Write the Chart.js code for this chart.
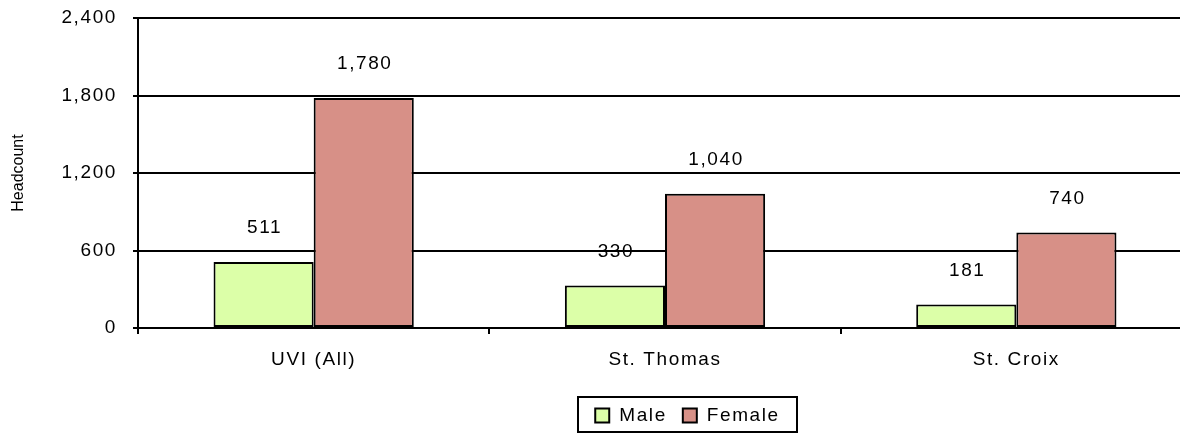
<!DOCTYPE html>
<html>
<head>
<meta charset="utf-8">
<script src="https://cdn.jsdelivr.net/npm/chart.js@4.4.1/dist/chart.umd.min.js"></script>
<style>
  html, body { margin: 0; padding: 0; background: #fff; overflow: hidden; }
  #wrap { position: relative; width: 1192px; height: 438px; }
</style>
</head>
<body>
<div id="wrap"><canvas id="chart"></canvas></div>
<script>
// data
const campuses = ['UVI (All)', 'St. Thomas', 'St. Croix'];
const maleCounts = [511, 330, 181];
const femaleCounts = [1780, 1040, 740];
const seriesNames = ['Male', 'Female'];
const yTicks = [0, 600, 1200, 1800, 2400];
const yTitle = 'Headcount';

const FONT = 'Liberation Sans, Arial, sans-serif';
const SPACING = '1.6px';

// Excel-like wide letter spacing for the canvas text
const spacingPlugin = {
    id: 'spacing',
    beforeLayout(chart) { chart.ctx.letterSpacing = SPACING; },
    beforeDraw(chart) { chart.ctx.letterSpacing = SPACING; }
};

// data labels placed above each bar
const valueLabels = {
    id: 'valueLabels',
    afterDatasetsDraw(chart) {
        const ctx = chart.ctx;
        ctx.save();
        ctx.letterSpacing = SPACING;
        ctx.font = '19px ' + FONT;
        ctx.fillStyle = '#000';
        ctx.textAlign = 'center';
        ctx.textBaseline = 'middle';
        chart.data.datasets.forEach((ds, i) => {
            chart.getDatasetMeta(i).data.forEach((bar, j) => {
                ctx.fillText(ds.data[j].toLocaleString('en-US'), bar.x + 1, bar.y - 34);
            });
        });
        ctx.restore();
    }
};

// rotated axis title, drawn without the extra spacing
const axisTitle = {
    id: 'axisTitle',
    afterDraw(chart) {
        const ctx = chart.ctx;
        const area = chart.chartArea;
        ctx.save();
        ctx.letterSpacing = '0px';
        ctx.font = '16px ' + FONT;
        ctx.fillStyle = '#000';
        ctx.textAlign = 'center';
        ctx.textBaseline = 'middle';
        ctx.translate(19, (area.top + area.bottom) / 2);
        ctx.rotate(-Math.PI / 2);
        ctx.fillText(yTitle, 0, 0);
        ctx.restore();
    }
};

// boxed legend below the axis
const boxLegend = {
    id: 'boxLegend',
    afterDraw(chart) {
        const ctx = chart.ctx;
        ctx.save();
        ctx.letterSpacing = SPACING;
        ctx.font = '19px ' + FONT;
        ctx.textBaseline = 'middle';
        ctx.textAlign = 'left';
        const sw = 14, gapTxt = 10, gapItem = 16, padX = 12;
        const items = chart.data.datasets.map(ds => ({
            label: ds.label, color: ds.backgroundColor, w: ctx.measureText(ds.label).width
        }));
        let contentW = 0;
        items.forEach((it, i) => { contentW += sw + gapTxt + it.w + (i < items.length - 1 ? gapItem : 0); });
        const boxW = Math.max(contentW + padX * 2, 219);
        const cx = 687;
        const top = 397, h = 35;
        const left = Math.round(cx - boxW / 2);
        ctx.lineWidth = 2;
        ctx.strokeStyle = '#000';
        ctx.strokeRect(left, top, boxW, h);
        let x = left + (boxW - contentW) / 2;
        const my = top + h / 2 + 1;
        items.forEach(it => {
            ctx.fillStyle = it.color;
            ctx.fillRect(x, my - sw / 2, sw, sw);
            ctx.strokeRect(x, my - sw / 2, sw, sw);
            x += sw + gapTxt;
            ctx.fillStyle = '#000';
            ctx.fillText(it.label, x, my);
            x += it.w + gapItem;
        });
        ctx.restore();
    }
};

new Chart(document.getElementById('chart'), {
    type: 'bar',
    data: {
        labels: campuses,
        datasets: [
            {
                label: seriesNames[0],
                data: maleCounts,
                backgroundColor: '#DCFFA8',
                borderColor: '#000',
                borderWidth: 2,
                borderSkipped: false,
                categoryPercentage: 0.57,
                barPercentage: 1.0
            },
            {
                label: seriesNames[1],
                data: femaleCounts,
                backgroundColor: '#D79087',
                borderColor: '#000',
                borderWidth: 2,
                borderSkipped: false,
                categoryPercentage: 0.57,
                barPercentage: 1.0
            }
        ]
    },
    options: {
        responsive: true,
        maintainAspectRatio: false,
        animation: false,
        layout: { autoPadding: false, padding: { top: 18, right: 0, bottom: 0, left: 0 } },
        scales: {
            x: {
                grid: {
                    offset: true,
                    drawOnChartArea: false,
                    drawTicks: true,
                    tickLength: 6,
                    color: '#000',
                    lineWidth: 2
                },
                border: { display: true, color: '#000', width: 2 },
                ticks: {
                    color: '#000',
                    font: { family: FONT, size: 19 },
                    padding: 14
                },
                afterFit(scale) {
                    scale.height = 110;
                    scale.paddingTop = 0; scale.paddingBottom = 0;
                }
            },
            y: {
                min: yTicks[0],
                max: yTicks[yTicks.length - 1],
                afterBuildTicks(scale) { scale.ticks = yTicks.map(v => ({ value: v })); },
                grid: {
                    color: '#000',
                    lineWidth: 2,
                    drawTicks: true,
                    tickLength: 5
                },
                border: { display: true, color: '#000', width: 2 },
                ticks: {
                    color: '#000',
                    font: { family: FONT, size: 19 },
                    padding: 16,
                    callback: v => v.toLocaleString('en-US')
                },
                title: { display: false },
                afterFit(scale) {
                    scale.width = 138;
                    scale.paddingTop = 0; scale.paddingBottom = 0;
                }
            }
        },
        plugins: {
            legend: { display: false },
            tooltip: { enabled: false }
        }
    },
    plugins: [spacingPlugin, valueLabels, axisTitle, boxLegend]
});
</script>
</body>
</html>
